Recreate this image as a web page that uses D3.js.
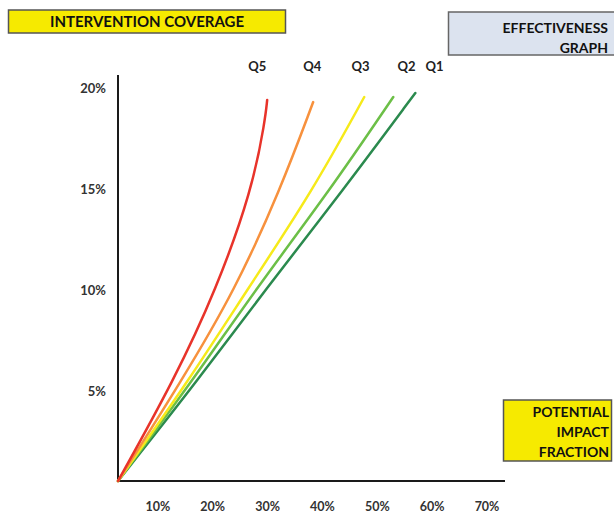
<!DOCTYPE html>
<html><head><meta charset="utf-8">
<script src="https://cdn.jsdelivr.net/npm/d3@7"></script>
<style>body{margin:0;background:#fff}svg{display:block}text{font-family:Lato,"Open Sans",sans-serif;font-weight:bold}</style>
</head><body><svg id="c" width="614" height="515"></svg>
<script>
// ---- data ----
const seriesNames = ["Q1","Q2","Q3","Q4","Q5"];
const seriesColors = ["#2b8a4e","#6cbf47","#f6ea1a","#f7913d","#e8332a"];
// potential impact fraction (x) vs coverage (y)
const q1 = [[0,0],[0.146,0.05],[0.2682,0.0946],[0.4106,0.1441],[0.542,0.1921]];
const q2 = [[0,0],[0.1369,0.05],[0.25,0.0946],[0.3869,0.1441],[0.5018,0.1901]];
const q3 = [[0,0],[0.1296,0.05],[0.2354,0.0946],[0.3558,0.1441],[0.4489,0.1901]];
const q4 = [[0,0],[0.1168,0.05],[0.2135,0.0946],[0.2956,0.1441],[0.3558,0.1876]];
const q5 = [[0,0],[0.1022,0.05],[0.1788,0.0946],[0.2445,0.1441],[0.2682,0.1787],[0.2719,0.1886]];
const seriesValues = [q1,q2,q3,q4,q5];
const labelX = [0.577,0.526,0.442,0.354,0.254];
const xTicks = [0.1,0.2,0.3,0.4,0.5,0.6,0.7];
const yTicks = [0.05,0.10,0.15,0.20];
const titleY = "INTERVENTION COVERAGE";
const titleX = ["POTENTIAL","IMPACT","FRACTION"];
const titleGraph = ["EFFECTIVENESS","GRAPH"];

// ---- drawing ----
const svg = d3.select("#c");
const x = d3.scaleLinear().domain([0,0.7]).range([118,502]);
const y = d3.scaleLinear().domain([0,0.2]).range([481,77]);
const fmt = d3.format(".0%");

// axes lines
svg.append("line").attr("x1",118).attr("x2",118).attr("y1",75).attr("y2",482).attr("stroke","#1a1a1a").attr("stroke-width",2);
svg.append("line").attr("x1",117).attr("x2",505).attr("y1",481).attr("y2",481).attr("stroke","#1a1a1a").attr("stroke-width",2);

// tick labels
svg.selectAll(".xt").data(xTicks).join("text").attr("class","xt")
  .attr("x",d=>x(d)-15).attr("y",507).attr("dy","0.35em").attr("text-anchor","middle")
  .attr("font-size",12.5).attr("fill","#333").text(fmt);
svg.selectAll(".yt").data(yTicks).join("text").attr("class","yt")
  .attr("x",106).attr("y",d=>y(d)+11).attr("dy","0.35em").attr("text-anchor","end")
  .attr("font-size",13).attr("fill","#333").text(fmt);

// lines
const line = d3.line().x(d=>x(d[0])).y(d=>y(d[1])).curve(d3.curveBasis);
svg.selectAll(".ln").data(seriesValues).join("path").attr("class","ln")
  .attr("d",line).attr("fill","none").attr("stroke",(d,i)=>seriesColors[i])
  .attr("stroke-width",2.5).attr("stroke-linecap","round");

// series labels
svg.selectAll(".ql").data(seriesNames).join("text").attr("class","ql")
  .attr("x",(d,i)=>x(labelX[i])).attr("y",66).attr("dy","0.35em").attr("text-anchor","middle")
  .attr("font-size",13).attr("fill","#222").text(d=>d);

// top-left box
svg.append("rect").attr("x",8.5).attr("y",10).attr("width",277).attr("height",23)
  .attr("fill","#f6ea00").attr("stroke","#555").attr("stroke-width",1.5);
svg.append("text").attr("x",147).attr("y",21.5).attr("dy","0.36em").attr("text-anchor","middle")
  .attr("font-size",15).attr("fill","#111").text(titleY);

// top-right box
svg.append("rect").attr("x",448.5).attr("y",12).attr("width",170).attr("height",43)
  .attr("fill","#dce3ef").attr("stroke","#666").attr("stroke-width",1.5);
svg.selectAll(".tg").data(titleGraph).join("text").attr("class","tg")
  .attr("x",608).attr("y",(d,i)=>28+i*20).attr("dy","0.36em").attr("text-anchor","end")
  .attr("font-size",14).attr("fill","#111").text(d=>d);

// bottom-right box
svg.append("rect").attr("x",503.5).attr("y",400).attr("width",108).attr("height",61)
  .attr("fill","#f6ea00").attr("stroke","#555").attr("stroke-width",1.5);
svg.selectAll(".tx").data(titleX).join("text").attr("class","tx")
  .attr("x",609).attr("y",(d,i)=>412+i*20).attr("dy","0.36em").attr("text-anchor","end")
  .attr("font-size",14).attr("fill","#111").text(d=>d);
</script></body></html>
